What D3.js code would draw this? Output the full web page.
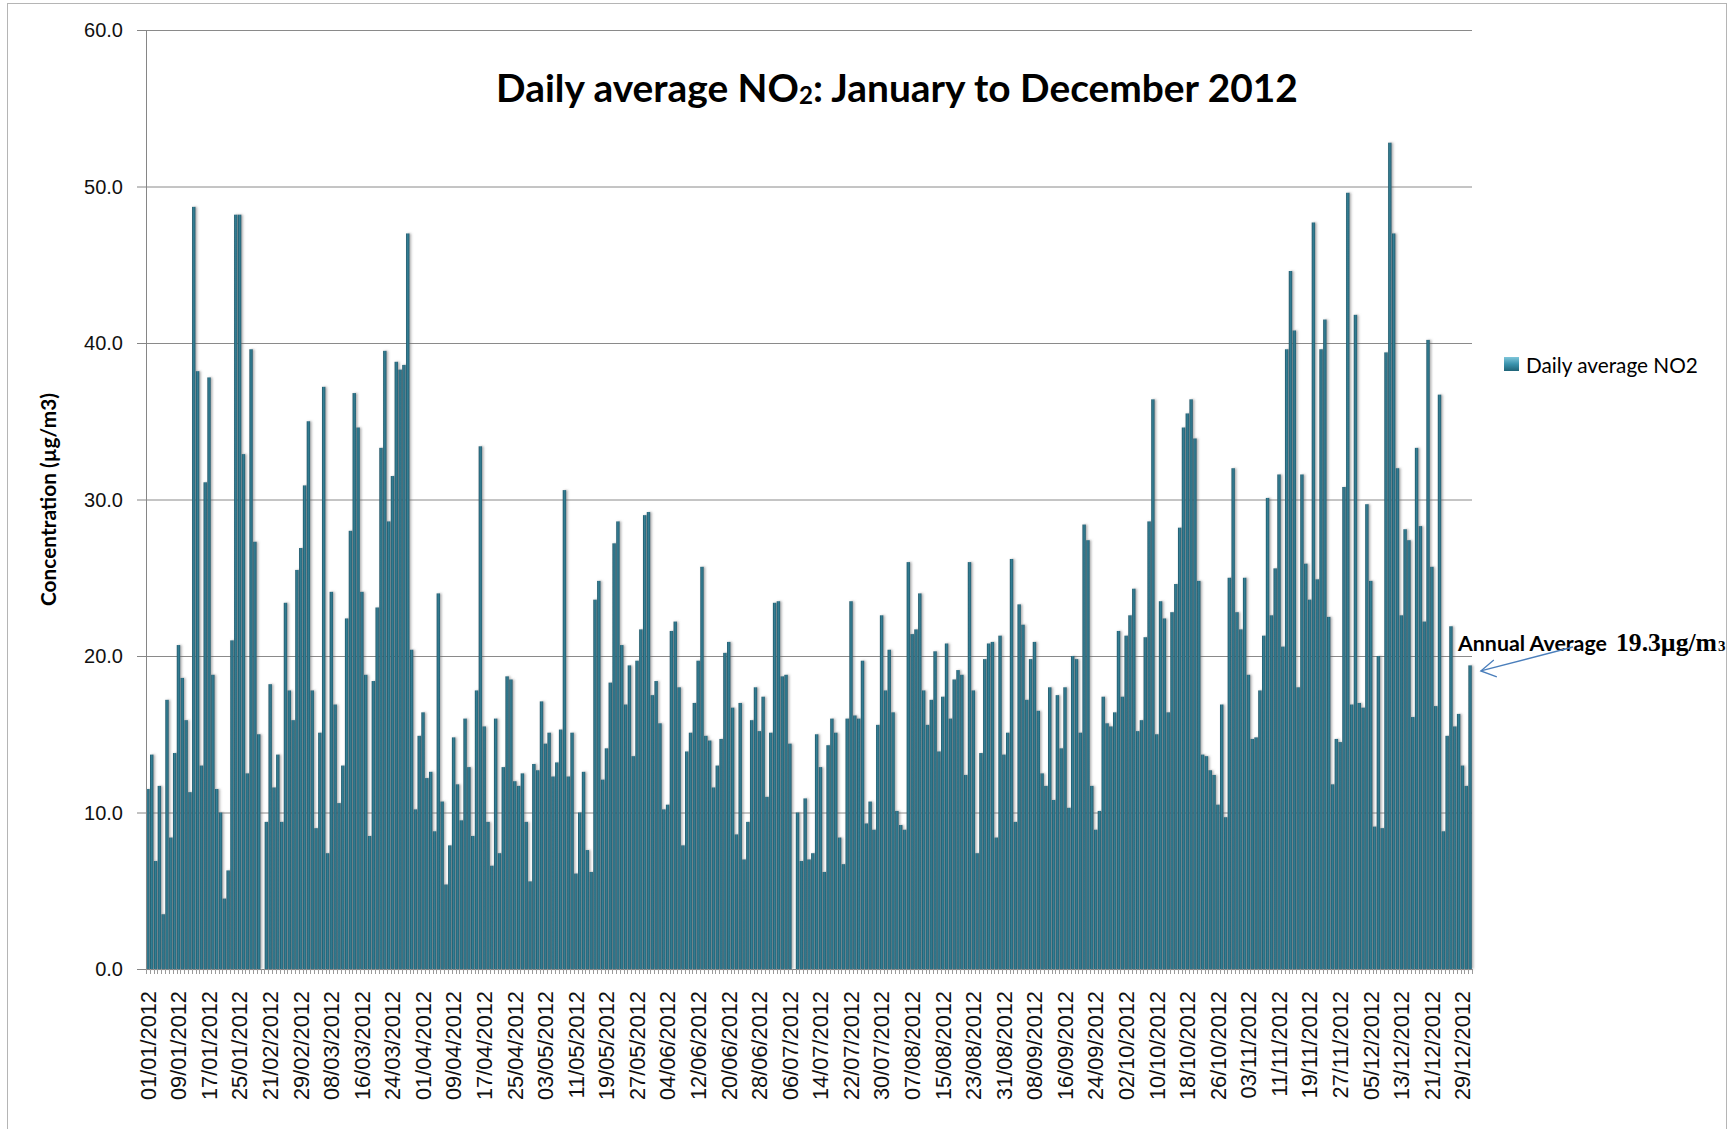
<!DOCTYPE html>
<html>
<head>
<meta charset="utf-8">
<script src="https://cdn.jsdelivr.net/npm/d3@7"></script>
<style>
  body { margin: 0; background: #fff; }
  svg { display: block; }
</style>
</head>
<body>
<svg id="chart" width="1730" height="1129"></svg>
<script>
// x axis labels, one for every 8th category
const tickLabels = ["01/01/2012","09/01/2012","17/01/2012","25/01/2012","21/02/2012","29/02/2012",
  "08/03/2012","16/03/2012","24/03/2012","01/04/2012","09/04/2012","17/04/2012","25/04/2012",
  "03/05/2012","11/05/2012","19/05/2012","27/05/2012","04/06/2012","12/06/2012","20/06/2012",
  "28/06/2012","06/07/2012","14/07/2012","22/07/2012","30/07/2012","07/08/2012","15/08/2012",
  "23/08/2012","31/08/2012","08/09/2012","16/09/2012","24/09/2012","02/10/2012","10/10/2012",
  "18/10/2012","26/10/2012","03/11/2012","11/11/2012","19/11/2012","27/11/2012","05/12/2012",
  "13/12/2012","21/12/2012","29/12/2012"];

// daily average NO2 (µg/m3), null = no data
const no2Daily = [
  11.5,13.7,6.9,11.7,3.5,17.2,8.4,13.8,20.7,18.6,15.9,11.3,48.7,38.2,13.0,31.1,37.8,18.8,11.5,10.0,
  4.5,6.3,21.0,48.2,48.2,32.9,12.5,39.6,27.3,15.0,null,9.4,18.2,11.6,13.7,9.4,23.4,17.8,15.9,25.5,
  26.9,30.9,35.0,17.8,9.0,15.1,37.2,7.4,24.1,16.9,10.6,13.0,22.4,28.0,36.8,34.6,24.1,18.8,8.5,18.4,
  23.1,33.3,39.5,28.6,31.5,38.8,38.3,38.6,47.0,20.4,10.2,14.9,16.4,12.2,12.6,8.8,24.0,10.7,5.4,7.9,
  14.8,11.8,9.5,16.0,12.9,8.5,17.8,33.4,15.5,9.4,6.6,16.0,7.4,12.9,18.7,18.5,12.0,11.7,12.5,9.4,
  5.6,13.1,12.7,17.1,14.4,15.1,12.3,13.2,15.3,30.6,12.3,15.1,6.1,10.0,12.6,7.6,6.2,23.6,24.8,12.1,
  14.1,18.3,27.2,28.6,20.7,16.9,19.4,13.6,19.7,21.7,29.0,29.2,17.5,18.4,15.7,10.2,10.5,21.6,22.2,18.0,
  7.9,13.9,15.1,17.0,19.7,25.7,14.9,14.6,11.6,13.0,14.7,20.2,20.9,16.7,8.6,17.0,7.0,9.4,15.9,18.0,
  15.2,17.4,11.0,15.1,23.4,23.5,18.7,18.8,14.4,null,10.0,6.9,10.9,7.0,7.4,15.0,12.9,6.2,14.3,16.0,
  15.1,8.4,6.7,16.0,23.5,16.2,16.0,19.7,9.3,10.7,8.9,15.6,22.6,17.8,20.4,16.4,10.1,9.2,8.9,26.0,
  21.4,21.7,24.0,17.8,15.6,17.2,20.3,13.9,17.4,20.8,16.0,18.5,19.1,18.8,12.4,26.0,17.8,7.4,13.8,19.8,
  20.8,20.9,8.4,21.3,13.7,15.1,26.2,9.4,23.3,22.0,17.2,19.8,20.9,16.5,12.5,11.7,18.0,10.8,17.5,14.1,
  18.0,10.3,20.0,19.8,15.1,28.4,27.4,11.7,8.9,10.1,17.4,15.7,15.5,16.4,21.6,17.4,21.3,22.6,24.3,15.2,
  15.9,21.2,28.6,36.4,15.0,23.5,22.4,16.4,22.8,24.6,28.2,34.6,35.5,36.4,33.9,24.8,13.7,13.6,12.7,12.4,
  10.5,16.9,9.7,25.0,32.0,22.8,21.7,25.0,18.8,14.7,14.8,17.8,21.3,30.1,22.6,25.6,31.6,20.6,39.6,44.6,
  40.8,18.0,31.6,25.9,23.6,47.7,24.9,39.6,41.5,22.5,11.8,14.7,14.5,30.8,49.6,16.9,41.8,17.0,16.7,29.7,
  24.8,9.1,20.0,9.0,39.4,52.8,47.0,32.0,22.6,28.1,27.4,16.1,33.3,28.3,22.2,40.2,25.7,16.8,36.7,8.8,
  14.9,21.9,15.5,16.3,13.0,11.7,19.4];

const yTicks = [0, 10, 20, 30, 40, 50, 60];
const annualAverage = 19.3;
const labelEvery = 8;

const svg = d3.select("#chart");
const plot = {left: 146, right: 1472, top: 30, bottom: 969};

const x = d3.scaleBand()
  .domain(d3.range(no2Daily.length))
  .range([plot.left, plot.right])
  .paddingInner(0.1)
  .paddingOuter(0.05);
const y = d3.scaleLinear().domain([0, 60]).range([plot.bottom, plot.top]);

const defs = svg.append("defs");
const grad = defs.append("linearGradient").attr("id", "barGrad")
  .attr("x1", 0).attr("x2", 1).attr("y1", 0).attr("y2", 0);
grad.append("stop").attr("offset", "0%").attr("stop-color", "#1f5566");
grad.append("stop").attr("offset", "45%").attr("stop-color", "#347f95");
grad.append("stop").attr("offset", "100%").attr("stop-color", "#245f71");

const legGrad = defs.append("linearGradient").attr("id", "legGrad")
  .attr("x1", 0).attr("x2", 0).attr("y1", 0).attr("y2", 1);
legGrad.append("stop").attr("offset", "0%").attr("stop-color", "#7fc6da");
legGrad.append("stop").attr("offset", "50%").attr("stop-color", "#3a93ad");
legGrad.append("stop").attr("offset", "100%").attr("stop-color", "#1f6478");

const shadow = defs.append("filter").attr("id", "shadow")
  .attr("x", "-5%").attr("y", "-5%").attr("width", "110%").attr("height", "110%");
shadow.append("feDropShadow").attr("dx", 1.5).attr("dy", 0).attr("stdDeviation", 1.2)
  .attr("flood-color", "#666").attr("flood-opacity", 0.55);

// outer chart frame
svg.append("rect").attr("x", 7.5).attr("y", 3.5).attr("width", 1719).attr("height", 1140)
  .attr("fill", "none").attr("stroke", "#b5b5b5");

// gridlines
svg.append("g").selectAll("line").data(yTicks.filter(d => d > 0)).join("line")
  .attr("x1", plot.left).attr("x2", plot.right)
  .attr("y1", d => y(d) + 0.5).attr("y2", d => y(d) + 0.5)
  .attr("stroke", "#8a8a8a").attr("stroke-width", 1);

// bars
svg.append("g").attr("filter", "url(#shadow)")
  .selectAll("rect").data(no2Daily.map((v, i) => ({i, v})).filter(d => d.v != null)).join("rect")
  .attr("x", d => x(d.i))
  .attr("width", x.bandwidth())
  .attr("y", d => y(d.v))
  .attr("height", d => y(0) - y(d.v))
  .attr("fill", "url(#barGrad)");

// axes lines
const axisColor = "#868686";
svg.append("line").attr("x1", plot.left + 0.5).attr("x2", plot.left + 0.5)
  .attr("y1", plot.top).attr("y2", plot.bottom).attr("stroke", axisColor);
svg.append("line").attr("x1", plot.left).attr("x2", plot.right)
  .attr("y1", plot.bottom + 0.5).attr("y2", plot.bottom + 0.5).attr("stroke", axisColor);

// y ticks + labels
const yAxis = svg.append("g");
yAxis.selectAll("line").data(yTicks).join("line")
  .attr("x1", plot.left - 9).attr("x2", plot.left)
  .attr("y1", d => y(d) + 0.5).attr("y2", d => y(d) + 0.5)
  .attr("stroke", axisColor);
yAxis.selectAll("text").data(yTicks).join("text")
  .attr("x", plot.left - 23).attr("y", d => y(d)).attr("dy", "0.35em")
  .attr("text-anchor", "end")
  .style("font-family", "'Liberation Sans', Arial, sans-serif").style("font-size", "20px")
  .attr("fill", "#111")
  .text(d3.format(".1f"));

// x category tick marks
svg.append("g").selectAll("line").data(d3.range(no2Daily.length + 1)).join("line")
  .attr("x1", i => Math.round(plot.left + i * (plot.right - plot.left) / no2Daily.length) + 0.5)
  .attr("x2", i => Math.round(plot.left + i * (plot.right - plot.left) / no2Daily.length) + 0.5)
  .attr("y1", plot.bottom).attr("y2", plot.bottom + 5)
  .attr("stroke", "#9a9a9a");

// x labels
svg.append("g").selectAll("text").data(tickLabels).join("text")
  .attr("transform", (d, k) => `translate(${x(k * labelEvery) + x.bandwidth() / 2},${plot.bottom + 22}) rotate(-90)`)
  .attr("text-anchor", "end").attr("dy", "0.36em")
  .style("font-family", "'Liberation Sans', Arial, sans-serif").style("font-size", "21.8px")
  .attr("fill", "#111")
  .text(d => d);

function fitWidth(sel, target) {
  const w = sel.node().getComputedTextLength();
  const fs = parseFloat(sel.style("font-size"));
  sel.style("font-size", (fs * target / w) + "px");
}

// title
const title = svg.append("text").attr("x", 897).attr("y", 102).attr("text-anchor", "middle")
  .style("font-family", "Lato, 'Open Sans', sans-serif").style("font-weight", "bold")
  .style("font-size", "38px").attr("fill", "#000");
title.append("tspan").text("Daily average NO");
title.append("tspan").attr("font-size", "62%").attr("dy", 2).text("2");
title.append("tspan").attr("dy", -2).text(": January to December 2012");
fitWidth(title, 802);

// y axis title
const yTitle = svg.append("text")
  .attr("transform", `translate(56,${(plot.top + plot.bottom) / 2}) rotate(-90)`)
  .attr("text-anchor", "middle")
  .style("font-family", "Lato, 'Open Sans', sans-serif").style("font-weight", "bold")
  .style("font-size", "18px").attr("fill", "#000")
  .text("Concentration (µg/m3)");
fitWidth(yTitle, 213);

// legend
svg.append("rect").attr("x", 1504).attr("y", 357).attr("width", 15).attr("height", 14)
  .attr("fill", "url(#legGrad)");
const legText = svg.append("text").attr("x", 1526).attr("y", 373)
  .style("font-family", "Lato, 'Open Sans', sans-serif").style("font-size", "21px")
  .attr("fill", "#000").text("Daily average NO2");
fitWidth(legText, 172);

// annual average annotation
const annSans = svg.append("text").attr("x", 1458).attr("y", 651).attr("fill", "#000")
  .style("font-weight", "bold").style("font-family", "Lato, 'Open Sans', sans-serif")
  .style("font-size", "20px").text("Annual Average");
fitWidth(annSans, 149);
const annSerif = svg.append("text").attr("x", 1616).attr("y", 651).attr("fill", "#000")
  .style("font-weight", "bold").style("font-family", "'Liberation Serif', 'Times New Roman', serif")
  .style("font-size", "24px").text("19.3µg/m");
fitWidth(annSerif, 101);
svg.append("text").attr("x", 1617 + 101).attr("y", 651).attr("fill", "#000")
  .style("font-weight", "bold").style("font-family", "'Liberation Serif', 'Times New Roman', serif")
  .style("font-size", "15px").text("3");

const lastX = x(no2Daily.length - 1) + x.bandwidth();
const tipX = lastX + 9, tipY = y(annualAverage) + 4;
const arrowColor = "#4a7ebb";
svg.append("line").attr("x1", 1573).attr("y1", 647).attr("x2", tipX).attr("y2", tipY)
  .attr("stroke", arrowColor).attr("stroke-width", 1.3);
svg.append("polyline")
  .attr("points", `${tipX + 13},${tipY - 11} ${tipX},${tipY} ${tipX + 16},${tipY + 6}`)
  .attr("fill", "none").attr("stroke", arrowColor).attr("stroke-width", 1.3);
</script>
</body>
</html>
